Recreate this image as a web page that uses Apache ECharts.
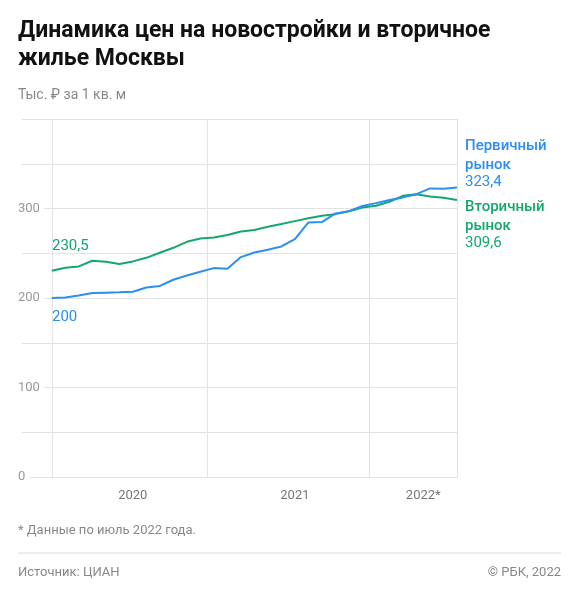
<!DOCTYPE html><html><head><meta charset="utf-8"><script src="https://cdn.jsdelivr.net/npm/echarts@6/dist/echarts.min.js"></script>
<style>body{margin:0}#c{width:579px;height:600px}</style></head><body><div id="c"></div><script>
const primary=[200,200.6,202.9,205.5,206,206.3,207,211.7,213.5,220.4,225.2,229.3,233.4,232.7,245.7,250.9,253.9,257.6,265.8,284.4,284.8,294.5,297,302.8,306,309.4,312.4,316,322.4,322,323.4];
const secondary=[230.5,233.8,235.3,241.6,240.5,238,240.9,244.9,250.5,256.1,262.8,266.5,267.7,270.3,274.4,275.9,279.6,282.6,285.9,289,292,293.7,297,301.2,303,307.5,314.2,316,313.5,312,309.6];
const yearLabels={6:'2020',18:'2021',27.5:'2022*'};
const BLUE='#2b8ef2',GREEN='#14a86c',F='Roboto';
const toPts=a=>a.map((v,i)=>[i,v]);
const ch=echarts.init(document.getElementById('c'));
ch.setOption({animation:false,textStyle:{fontFamily:F},
grid:{left:18,right:122,top:119,bottom:123},
xAxis:{type:'value',min:-2.5,max:30,interval:0.5,splitLine:{show:false},axisTick:{show:false},
 axisLine:{lineStyle:{color:'#e3e3e3'}},
 axisLabel:{color:'#777',fontSize:13,margin:12,formatter:v=>yearLabels[v]||''}},
yAxis:{type:'value',min:0,max:400,interval:50,axisLine:{show:false},axisTick:{show:false},
 splitLine:{lineStyle:{color:'#e3e3e3'}},
 axisLabel:{inside:true,color:'#999',fontSize:13,margin:0,backgroundColor:'#fff',padding:[2,4,2,0],formatter:v=>(v%100===0&&v<400)?String(v):''}},
series:[
{type:'line',data:[],z:1,silent:true,
 markLine:{silent:true,symbol:'none',label:{show:false},lineStyle:{color:'#e3e3e3',type:'solid',width:1},data:[{xAxis:0},{xAxis:11.5},{xAxis:23.5},{xAxis:30}]}},
{type:'line',data:toPts(secondary),symbol:'none',lineStyle:{color:GREEN,width:2},zlevel:1,z:3},
{type:'line',data:toPts(primary),symbol:'none',lineStyle:{color:BLUE,width:2},zlevel:1,z:4}],
graphic:[
{type:'text',left:18,top:17,style:{text:'Динамика цен на новостройки и вторичное\nжилье Москвы',font:'bold 23px Roboto',fill:'#111',lineHeight:28}},
{type:'text',left:18,top:88,style:{text:'Тыс. ₽ за 1 кв. м',font:'14px Roboto',fill:'#888'}},
{type:'text',left:52,top:239,style:{text:'230,5',font:'15px Roboto',fill:GREEN}},
{type:'text',left:52,top:310,style:{text:'200',font:'15px Roboto',fill:BLUE}},
{type:'text',left:465,top:137,style:{text:'Первичный\nрынок',font:'500 15px Roboto',fill:BLUE,lineHeight:19}},
{type:'text',left:465,top:175,style:{text:'323,4',font:'15px Roboto',fill:BLUE}},
{type:'text',left:465,top:198,style:{text:'Вторичный\nрынок',font:'500 15px Roboto',fill:GREEN,lineHeight:19}},
{type:'text',left:465,top:236,style:{text:'309,6',font:'15px Roboto',fill:GREEN}},
{type:'text',left:18,top:524,style:{text:'* Данные по июль 2022 года.',font:'13px Roboto',fill:'#888'}},
{type:'line',shape:{x1:18,y1:553,x2:561,y2:553},style:{stroke:'#ddd',lineWidth:1}},
{type:'text',left:18,top:566,style:{text:'Источник: ЦИАН',font:'13px Roboto',fill:'#888'}},
{type:'text',right:18,top:566,style:{text:'© РБК, 2022',font:'13px Roboto',fill:'#888'}}
]});
</script></body></html>
